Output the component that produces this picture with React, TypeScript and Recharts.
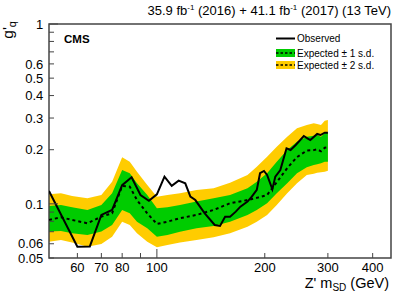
import React from 'react';
import { ComposedChart, Area, Line, XAxis, YAxis, ReferenceArea } from 'recharts';

// Expected limit bands (mass in GeV)
const expMass = [50, 54, 58, 64, 70, 75, 80, 84, 88, 94, 100, 107, 116, 129, 144, 160, 179, 190, 203, 216, 231, 246, 262, 274, 280, 287, 294, 300];
const expMedian = [0.0814, 0.0842, 0.0814, 0.078, 0.085, 0.0886, 0.1258, 0.1247, 0.105, 0.0886, 0.0773, 0.0796, 0.0832, 0.0868, 0.0925, 0.1008, 0.105, 0.108, 0.112, 0.132, 0.158, 0.182, 0.1977, 0.199, 0.201, 0.196, 0.205, 0.206];
const exp1Hi = [0.0973, 0.0986, 0.0957, 0.0925, 0.0986, 0.1145, 0.1543, 0.148, 0.13, 0.1121, 0.0945, 0.0957, 0.0986, 0.1029, 0.1074, 0.1121, 0.122, 0.1328, 0.148, 0.1716, 0.1994, 0.2218, 0.2363, 0.239, 0.2414, 0.2363, 0.2469, 0.2488];
const exp1Lo = [0.0701, 0.0707, 0.0686, 0.0672, 0.0701, 0.0763, 0.0925, 0.0886, 0.0796, 0.0732, 0.0657, 0.0672, 0.07, 0.0732, 0.0754, 0.0796, 0.0868, 0.0925, 0.1008, 0.1145, 0.13, 0.148, 0.16, 0.1645, 0.166, 0.168, 0.1716, 0.1716];
const exp2Hi = [0.113, 0.1145, 0.1106, 0.1074, 0.1121, 0.1328, 0.1816, 0.1716, 0.151, 0.1274, 0.1096, 0.1121, 0.1145, 0.1195, 0.122, 0.131, 0.1448, 0.161, 0.183, 0.208, 0.2363, 0.263, 0.2746, 0.2805, 0.278, 0.2746, 0.29, 0.2926];
const exp2Lo = [0.0616, 0.063, 0.0609, 0.0578, 0.0598, 0.0657, 0.0796, 0.0763, 0.0686, 0.0616, 0.0574, 0.0591, 0.061, 0.063, 0.0652, 0.0686, 0.0747, 0.0796, 0.0868, 0.0986, 0.1145, 0.13, 0.1448, 0.147, 0.149, 0.15, 0.151, 0.1529];

// Observed limit
const obsMass = [50, 60, 65, 70, 75, 80, 85, 90, 95, 100, 105, 110, 115, 120, 124, 128, 136, 145, 150, 155, 160, 166, 171, 179, 184, 190, 194, 199, 203, 210, 214, 221, 230, 236, 244, 257, 263, 268, 280, 286, 294, 300];
const obsLimit = [0.118, 0.0578, 0.058, 0.0868, 0.0925, 0.127, 0.1406, 0.112, 0.104, 0.113, 0.1417, 0.126, 0.1346, 0.13, 0.1096, 0.105, 0.0886, 0.0763, 0.0754, 0.0849, 0.0849, 0.0905, 0.0965, 0.1029, 0.1096, 0.1195, 0.148, 0.1524, 0.1448, 0.1205, 0.1417, 0.1543, 0.2038, 0.1994, 0.2126, 0.2385, 0.2315, 0.2265, 0.2446, 0.2414, 0.2488, 0.2488];

// Axis ticks
const xTicks = [60, 70, 80, 90, 100, 200, 300, 400];
const xTickLabels = [60, 70, 80, 100, 200, 300, 400];
const xMajor = [100];
const yTicks = [0.05, 0.06, 0.07, 0.08, 0.09, 0.1, 0.2, 0.3, 0.4, 0.5, 0.6, 0.7, 0.8, 0.9, 1];
const yTickLabels = [0.05, 0.06, 0.1, 0.2, 0.3, 0.4, 0.5, 0.6, 1];
const yMajor = [0.1, 1];

const GREEN = '#00CC00';
const YELLOW = '#FFCC00';
const FONT = '"Liberation Sans", Arial, Helvetica, sans-serif';
const AXIS = '#444';

const bandData = expMass.map((m, i) => ({
  m,
  med: expMedian[i],
  s1: [exp1Lo[i], exp1Hi[i]],
  s2: [exp2Lo[i], exp2Hi[i]],
}));
const obsData = obsMass.map((m, i) => ({ m, obs: obsLimit[i] }));

const XTick = (props: any) => {
  const { x, y, payload } = props;
  const v = payload.value;
  const len = xMajor.includes(v) ? 9 : 5;
  return (
    <g>
      <line x1={x} x2={x} y1={y} y2={y - len} stroke={AXIS} strokeWidth={1} />
      {xTickLabels.includes(v) && (
        <text x={x} y={y + 14.2} textAnchor="middle" fontSize={13} fill="#000" fontFamily={FONT}>
          {v}
        </text>
      )}
    </g>
  );
};

const YTick = (props: any) => {
  const { x, y, payload } = props;
  const v = payload.value;
  const len = yMajor.includes(v) ? 9 : 5;
  return (
    <g>
      <line x1={x} x2={x + len} y1={y} y2={y} stroke={AXIS} strokeWidth={1} />
      {yTickLabels.includes(v) && (
        <text x={x - 5.7} y={y} dy="0.36em" textAnchor="end" fontSize={13} fill="#000" fontFamily={FONT}>
          {String(v)}
        </text>
      )}
    </g>
  );
};

export default function App() {
  return (
    <div style={{ position: 'absolute', left: 0, top: 0, width: 407, height: 294, background: '#fff' }}>
      <ComposedChart
        width={407}
        height={294}
        data={bandData}
        margin={{ top: 24, right: 16, bottom: 0, left: 0 }}
      >
        <XAxis
          dataKey="m"
          type="number"
          scale="log"
          domain={[50, 450]}
          allowDataOverflow
          ticks={xTicks}
          interval={0}
          tick={<XTick />}
          tickLine={false}
          tickSize={0}
          tickMargin={0}
          axisLine={false}
          height={36}
        />
        <YAxis
          type="number"
          scale="log"
          domain={[0.05, 1]}
          allowDataOverflow
          ticks={yTicks}
          interval={0}
          tick={<YTick />}
          tickLine={false}
          tickSize={0}
          tickMargin={0}
          axisLine={false}
          width={49}
        />
        <Area dataKey="s2" stroke="none" fill={YELLOW} fillOpacity={1} isAnimationActive={false} type="linear" />
        <Area dataKey="s1" stroke="none" fill={GREEN} fillOpacity={1} isAnimationActive={false} type="linear" />
        <Line dataKey="med" stroke="#000" strokeWidth={2} strokeDasharray="3 3" dot={false} isAnimationActive={false} type="linear" />
        <Line data={obsData} dataKey="obs" stroke="#000" strokeWidth={2} dot={false} isAnimationActive={false} type="linear" />
        <ReferenceArea x1={50} x2={450} y1={0.05} y2={1} fill="none" stroke={AXIS} strokeWidth={1.5} ifOverflow="visible" />
      </ComposedChart>
      <svg width={407} height={294} style={{ position: 'absolute', left: 0, top: 0, pointerEvents: 'none' }}>
        <g fontFamily={FONT} fill="#000">
          <text x={391} y={15} textAnchor="end" fontSize={13}>
            35.9 fb<tspan fontSize={8} dy={-5}>-1</tspan>
            <tspan dy={5}> (2016) + 41.1 fb</tspan>
            <tspan fontSize={8} dy={-5}>-1</tspan>
            <tspan dy={5}> (2017) (13 TeV)</tspan>
          </text>
          <text x={64} y={43} fontSize={11.5} fontWeight="bold">CMS</text>
          <text transform="translate(12.5, 21) rotate(-90)" textAnchor="end" fontSize={15.5}>
            g'<tspan fontSize={11} dy={3}>q</tspan>
          </text>
          <text x={389} y={288} textAnchor="end" fontSize={14.5}>
            Z' m<tspan fontSize={10} dy={2.5}>SD</tspan>
            <tspan dy={-2.5}> (GeV)</tspan>
          </text>
          {/* legend */}
          <line x1={276} x2={295} y1={38.5} y2={38.5} stroke="#000" strokeWidth={2} />
          <text x={297} y={38.5} dy="0.36em" fontSize={10}>Observed</text>
          <rect x={276} y={49} width={19} height={8} fill={GREEN} />
          <line x1={276} x2={295} y1={53} y2={53} stroke="#000" strokeWidth={1.5} strokeDasharray="2.5 2" />
          <text x={297} y={53} dy="0.36em" fontSize={10}>Expected ± 1 s.d.</text>
          <rect x={276} y={61} width={19} height={8} fill={YELLOW} />
          <line x1={276} x2={295} y1={65} y2={65} stroke="#000" strokeWidth={1.5} strokeDasharray="2.5 2" />
          <text x={297} y={65} dy="0.36em" fontSize={10}>Expected ± 2 s.d.</text>
        </g>
      </svg>
    </div>
  );
}
